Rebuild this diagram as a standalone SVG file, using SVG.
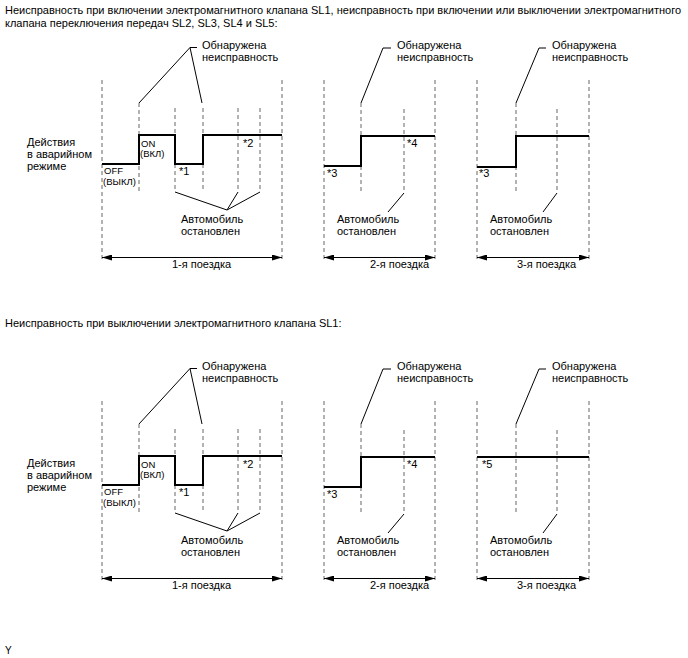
<svg xmlns="http://www.w3.org/2000/svg" width="688" height="658" viewBox="0 0 688 658">
<style>
text{font-family:"Liberation Sans",Arial,sans-serif;font-size:11px;fill:#000}
.s{font-size:9.5px}
.d{stroke:#666;stroke-width:1;stroke-dasharray:4 3;fill:none}
.w{stroke:#000;stroke-width:2;fill:none}
.l{stroke:#000;stroke-width:1;fill:none}
.dim{stroke:#000;stroke-width:1;fill:none;marker-start:url(#a);marker-end:url(#a)}
</style>
<defs>
<marker id="a" viewBox="0 0 10 6" refX="10" refY="3" markerWidth="10" markerHeight="6" markerUnits="userSpaceOnUse" orient="auto-start-reverse"><path d="M0 0L10 3L0 6z" fill="#000"/></marker>
</defs>
<rect width="688" height="658" fill="#fff"/>
<text x="5" y="14">Неисправность при включении электромагнитного клапана SL1, неисправность при включении или выключении электромагнитного</text>
<text x="5" y="27">клапана переключения передач SL2, SL3, SL4 и SL5:</text>
<text x="5" y="327">Неисправность при выключении электромагнитного клапана SL1:</text>
<text x="5" y="654" style="font-size:10px">Y</text>

<g id="section1">
<g id="label1"><text x="27" y="145.5">Действия</text><text x="27" y="157.5">в аварийном</text><text x="27" y="169.5">режиме</text></g>
<g id="trip1-1">
<path class="d" d="M102 80V262M139 103V192M175 108V192M203 108V192M238 108V192M260 108V192M282 80V262"/>
<path class="w" d="M102 164H139V135H175V164H203V135H282"/>
<text class="s" x="141" y="146.5">ON</text><text class="s" x="140" y="157">(ВКЛ)</text>
<text class="s" x="104" y="174">OFF</text><text class="s" x="103" y="185">(ВЫКЛ)</text>
<text x="179" y="175">*1</text><text x="243" y="147">*2</text>
<text x="202" y="49">Обнаружена</text><text x="202" y="61">неисправность</text>
<text x="181" y="223">Автомобиль</text><text x="181" y="235">остановлен</text>
<path class="dim" d="M102 257.5H282"/><text x="172" y="268">1-я поездка</text>
</g>
<g id="trip1-2">
<path class="d" d="M324 80V262M361 103V192M404 109V192M435 80V262"/>
<path class="w" d="M324 166H361V136H435"/>
<text x="327" y="177">*3</text><text x="407" y="147">*4</text>
<text x="397" y="49">Обнаружена</text><text x="397" y="61">неисправность</text>
<text x="337" y="223">Автомобиль</text><text x="337" y="235">остановлен</text>
<path class="dim" d="M324 257.5H435"/><text x="370" y="268">2-я поездка</text>
</g>
<g id="trip1-3">
<path class="d" d="M477 80V262M516 103V193M557 109V193M589 80V262"/>
<path class="w" d="M477 167H516V136H589"/>
<text x="479" y="177">*3</text>
<text x="552" y="49">Обнаружена</text><text x="552" y="61">неисправность</text>
<text x="490" y="223">Автомобиль</text><text x="490" y="235">остановлен</text>
<path class="dim" d="M477 257.5H589"/><text x="517" y="268">3-я поездка</text>
</g>
<g id="connectors1">
<path class="l" d="M139 103L190 47.5L202 103M190 47.5H197"/>
<path class="l" d="M175 192L227 210L238 192M227 210L260 192"/>
<path class="l" d="M361 103L383 48H391M404 193L388 212"/>
<path class="l" d="M516 103L539 48H546M557 193L543 212"/>
</g>
</g>

<g id="section2" transform="translate(0,321)">
<g id="label2"><text x="27" y="145.5">Действия</text><text x="27" y="157.5">в аварийном</text><text x="27" y="169.5">режиме</text></g>
<g id="trip2-1">
<path class="d" d="M102 80V262M139 103V192M175 108V192M203 108V192M238 108V192M260 108V192M282 80V262"/>
<path class="w" d="M102 164H139V135H175V164H203V135H282"/>
<text class="s" x="141" y="146.5">ON</text><text class="s" x="140" y="157">(ВКЛ)</text>
<text class="s" x="104" y="174">OFF</text><text class="s" x="103" y="185">(ВЫКЛ)</text>
<text x="179" y="175">*1</text><text x="243" y="147">*2</text>
<text x="202" y="49">Обнаружена</text><text x="202" y="61">неисправность</text>
<text x="181" y="223">Автомобиль</text><text x="181" y="235">остановлен</text>
<path class="dim" d="M102 257.5H282"/><text x="172" y="268">1-я поездка</text>
</g>
<g id="trip2-2">
<path class="d" d="M324 80V262M361 103V192M404 109V192M435 80V262"/>
<path class="w" d="M324 166H361V136H435"/>
<text x="327" y="177">*3</text><text x="407" y="147">*4</text>
<text x="397" y="49">Обнаружена</text><text x="397" y="61">неисправность</text>
<text x="337" y="223">Автомобиль</text><text x="337" y="235">остановлен</text>
<path class="dim" d="M324 257.5H435"/><text x="370" y="268">2-я поездка</text>
</g>
<g id="trip2-3">
<path class="d" d="M477 80V262M516 103V193M557 109V193M589 80V262"/>
<path class="w" d="M477 136H589"/>
<text x="482" y="147">*5</text>
<text x="552" y="49">Обнаружена</text><text x="552" y="61">неисправность</text>
<text x="490" y="223">Автомобиль</text><text x="490" y="235">остановлен</text>
<path class="dim" d="M477 257.5H589"/><text x="517" y="268">3-я поездка</text>
</g>
<g id="connectors2">
<path class="l" d="M139 103L190 47.5L202 103M190 47.5H197"/>
<path class="l" d="M175 192L227 210L238 192M227 210L260 192"/>
<path class="l" d="M361 103L383 48H391M404 193L388 212"/>
<path class="l" d="M516 103L539 48H546M557 193L543 212"/>
</g>
</g>
</svg>
